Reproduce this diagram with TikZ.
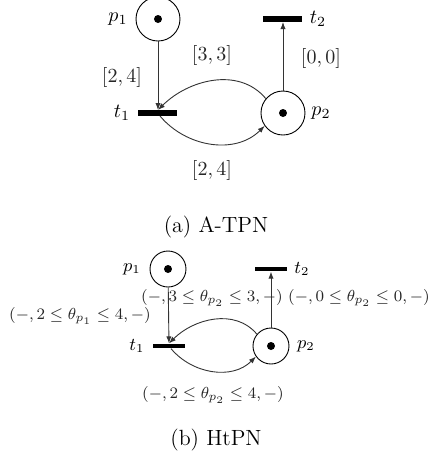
\documentclass[tikz,border=0pt]{standalone}
\usetikzlibrary{arrows.meta}
\begin{document}
\begin{tikzpicture}[x=0.5pt,y=0.5pt,
  place/.style={circle,draw,line width=0.45pt,inner sep=0pt},
  trans/.style={rectangle,fill=black,inner sep=0pt},
  tok/.style={circle,fill=black,inner sep=0pt,minimum size=4pt},
  arc/.style={draw=black!80,line width=0.45pt,-{Latex[length=3.5pt,width=2.6pt]}},
  lbl/.style={inner sep=0pt},
  ilbl/.style={inner sep=0pt,text=black!85},
  bfont/.style={font=\fontsize{8.5}{10}\selectfont},
]
\useasboundingbox (0,0) rectangle (433,-463);
% ---------- (a) A-TPN ----------
\node[place,minimum size=22pt] (ap1) at (158,-19) {};
\node[tok] (ap1t) at (ap1) {};
\node[place,minimum size=22pt] (ap2) at (283,-113) {};
\node[tok] (ap2t) at (ap2) {};
\node[trans,minimum width=19.5pt,minimum height=2.6pt] (at1) at (158,-113) {};
\node[trans,minimum width=19.5pt,minimum height=2.6pt] (at2) at (283,-19) {};
\node[lbl] (ap1l) at (118,-19) {$p_1$};
\node[lbl] (ap2l) at (321,-113) {$p_2$};
\node[lbl] (at1l) at (122,-113) {$t_1$};
\node[lbl] (at2l) at (318,-19) {$t_2$};
\draw[arc] (ap1) -- (at1);
\draw[arc] (ap2) -- (at2);
\draw[arc] (ap2.140) to[out=130,in=45] (at1.north);
\draw[arc] (at1.south) ++(2,0) coordinate (at1s) to[out=-50,in=225] (ap2.215);
\node[ilbl] (al1) at (122,-77) {$[2,4]$};
\node[ilbl] (al2) at (321,-58) {$[0,0]$};
\node[ilbl] (al3) at (212,-55) {$[3,3]$};
\node[ilbl] (al4) at (212,-170) {$[2,4]$};
\node[lbl] (capa) at (216,-227) {\fontsize{11}{13}\selectfont (a) A-TPN};
% ---------- (b) HtPN ----------
\node[place,minimum size=18pt] (bp1) at (168,-269) {};
\node[tok] (bp1t) at (bp1) {};
\node[place,minimum size=18pt] (bp2) at (271,-346) {};
\node[tok] (bp2t) at (bp2) {};
\node[trans,minimum width=16pt,minimum height=2.2pt] (bt1) at (169,-346) {};
\node[trans,minimum width=16pt,minimum height=2.2pt] (bt2) at (271,-269) {};
\node[lbl,font=\small] (bp1l) at (132,-269) {$p_1$};
\node[lbl,font=\small] (bp2l) at (306,-346) {$p_2$};
\node[lbl,font=\small] (bt1l) at (137,-346) {$t_1$};
\node[lbl,font=\small] (bt2l) at (302,-269) {$t_2$};
\draw[arc] (bp1) -- (bt1);
\draw[arc] (bp2) -- (bt2);
\draw[arc] (bp2.140) to[out=130,in=45] (bt1.north);
\draw[arc] (bt1.south) ++(2,0) coordinate (bt1s) to[out=-50,in=225] (bp2.215);
\node[ilbl,bfont] (bl1) at (80,-316) {$(-,2\le\theta_{p_1}\le4,-)$};
\node[ilbl,bfont] (bl2) at (359,-298) {$(-,0\le\theta_{p_2}\le0,-)$};
\node[ilbl,bfont] (bl3) at (212,-298) {$(-,3\le\theta_{p_2}\le3,-)$};
\node[ilbl,bfont] (bl4) at (213,-395) {$(-,2\le\theta_{p_2}\le4,-)$};
\node[lbl] (capb) at (216,-440) {\fontsize{11}{13}\selectfont (b) HtPN};
\end{tikzpicture}
\end{document}
